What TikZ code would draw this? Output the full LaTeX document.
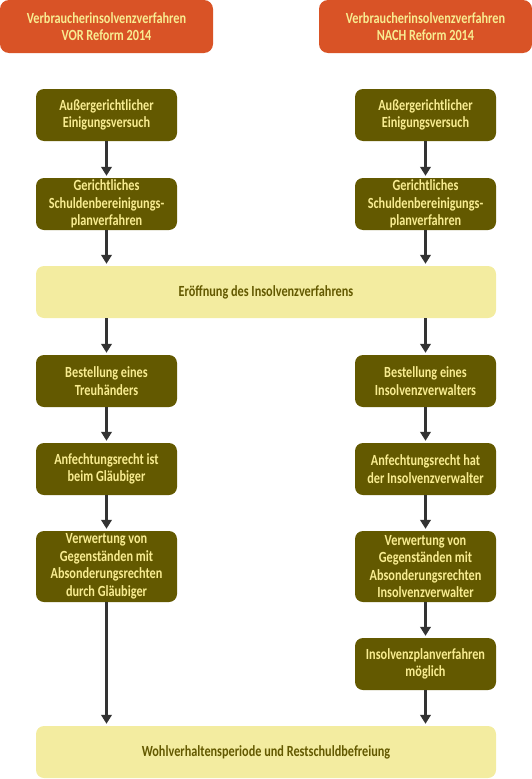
\documentclass[tikz,border=0pt]{standalone}
\usepackage{fontspec}
\setmainfont{Carlito}[FakeStretch=0.79]
\usepackage{tikz}
\usetikzlibrary{arrows.meta}

\definecolor{headred}{RGB}{217,83,38}
\definecolor{olivebox}{RGB}{99,89,0}
\definecolor{palebox}{RGB}{243,236,160}
\definecolor{paletext}{RGB}{248,236,145}
\definecolor{arrowgray}{RGB}{51,51,51}

\begin{document}
\begin{tikzpicture}[
x=1pt, y=1pt,
font=\fontsize{15.5}{17.5}\selectfont\bfseries,
node distance=89pt,
head/.style={rectangle, rounded corners=9pt, fill=headred, text=paletext, minimum width=213pt, minimum height=53pt, align=center, inner sep=0pt},
phase/.style={rectangle, rounded corners=8pt, fill=olivebox, text=paletext, minimum width=141pt, minimum height=52pt, align=center, inner sep=0pt},
wide/.style={rectangle, rounded corners=8pt, fill=palebox, text=olivebox, minimum width=460pt, minimum height=52pt, align=center, inner sep=0pt},
flow/.style={draw=arrowgray, line width=2.6pt, -{Triangle[length=9pt,width=10.5pt]}, shorten >=2pt}
]
\useasboundingbox (0,0) rectangle (532,-779);
%Headers
\node[head]      (hl)     at (106.5,-26.5)                 {Verbraucherinsolvenzverfahren\\VOR Reform 2014};
\node[head]      (hr)     at (425.5,-26.5)                 {Verbraucherinsolvenzverfahren\\NACH Reform 2014};
%Nodes
\node[phase]     (l1)     at (106.5,-115)                  {Außergerichtlicher\\Einigungsversuch};
\node[phase]     (l2)     [below of = l1]                  {Gerichtliches\\Schuldenbereinigungs-\\planverfahren};
\node[phase]     (r1)     at (425.5,-115)                  {Außergerichtlicher\\Einigungsversuch};
\node[phase]     (r2)     [below of = r1]                  {Gerichtliches\\Schuldenbereinigungs-\\planverfahren};
\node[wide]      (open)   at (266,-292)                    {Eröffnung des Insolvenzverfahrens};
\node[phase]     (l3)     at (106.5,-381)                  {Bestellung eines\\Treuhänders};
\node[phase]     (l4)     [below of = l3, yshift=1pt]      {Anfechtungsrecht ist\\beim Gläubiger};
\node[phase]     (l5)     [below of = l4, yshift=-8.5pt, minimum height=71pt] {Verwertung von\\Gegenständen mit\\Absonderungsrechten\\durch Gläubiger};
\node[phase]     (r3)     at (425.5,-381)                  {Bestellung eines\\Insolvenzverwalters};
\node[phase]     (r4)     [below of = r3, yshift=1pt]      {Anfechtungsrecht hat\\der Insolvenzverwalter};
\node[phase]     (r5)     [below of = r4, yshift=-8.5pt, minimum height=71pt] {Verwertung von\\Gegenständen mit\\Absonderungsrechten\\Insolvenzverwalter};
\node[phase]     (r6)     [below of = r5, yshift=-8.5pt]   {Insolvenzplanverfahren\\möglich};
\node[wide]      (end)    at (266,-752)                    {Wohlverhaltensperiode und Restschuldbefreiung};
%Lines
\draw[flow] (l1) -- (l2);
\draw[flow] (r1) -- (r2);
\draw[flow] (l2) -- (l2 |- open.north);
\draw[flow] (r2) -- (r2 |- open.north);
\draw[flow] (open.south -| l3) -- (l3);
\draw[flow] (open.south -| r3) -- (r3);
\draw[flow] (l3) -- (l4);
\draw[flow] (r3) -- (r4);
\draw[flow] (l4) -- (l5);
\draw[flow] (r4) -- (r5);
\draw[flow] (r5) -- (r6);
\draw[flow] (l5) -- (l5 |- end.north);
\draw[flow] (r6) -- (r6 |- end.north);
\end{tikzpicture}
\end{document}
